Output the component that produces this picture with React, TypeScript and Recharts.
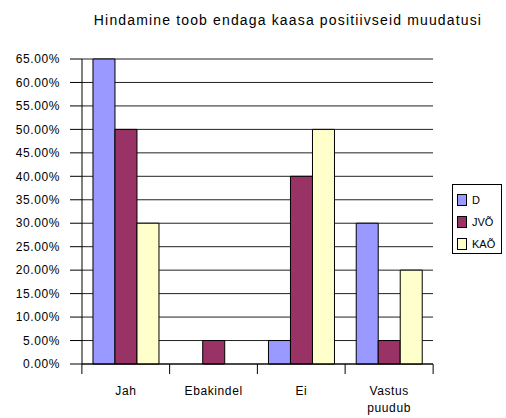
import React from 'react';
import { BarChart, Bar, XAxis, YAxis, CartesianGrid } from 'recharts';

const categories = ['Jah', 'Ebakindel', 'Ei', 'Vastus puudub'];
const seriesD = [65, 0, 5, 30];
const seriesJVO = [50, 5, 40, 5];
const seriesKAO = [30, 0, 50, 20];
const yTicks = [0, 5, 10, 15, 20, 25, 30, 35, 40, 45, 50, 55, 60, 65];
const seriesNames = ['D', 'JVÕ', 'KAÕ'];
const seriesColors = ['#9999FF', '#993366', '#FFFFCC'];

const data = categories.map((name, i) => ({
  name,
  D: seriesD[i],
  'JVÕ': seriesJVO[i],
  'KAÕ': seriesKAO[i],
}));

const FONT = '"Liberation Sans", Arial, sans-serif';
const BAND = 88;

const CategoryTick = (props: any) => {
  const { x, y, payload, index } = props;
  const words: string[] = payload.value.split(' ');
  return (
    <g>
      <line x1={x - BAND / 2} y1={y - 8} x2={x - BAND / 2} y2={y + 2} stroke="#000" />
      {index === categories.length - 1 && (
        <line x1={x + BAND / 2} y1={y - 8} x2={x + BAND / 2} y2={y + 2} stroke="#000" />
      )}
      {words.map((w, i) => (
        <text
          key={i}
          x={x}
          y={y + 23 + i * 17}
          textAnchor="middle"
          fontSize={12}
          fontFamily={FONT}
          letterSpacing={0.6}
          fill="#000"
        >
          {w}
        </text>
      ))}
    </g>
  );
};

const LegendBox = () => (
  <div
    style={{
      position: 'absolute',
      left: 452,
      top: 184,
      border: '1px solid #000',
      background: '#fff',
      width: 50,
      height: 70,
      boxSizing: 'border-box',
      padding: '4px 0 0 4px',
      fontFamily: FONT,
      fontSize: 11,
    }}
  >
    {seriesNames.map((n, i) => (
      <div key={n} style={{ display: 'flex', alignItems: 'center', height: 22 }}>
        <span
          style={{
            display: 'inline-block',
            width: 10,
            height: 12,
            background: seriesColors[i],
            border: '1px solid #000',
            boxSizing: 'border-box',
            marginRight: 5,
          }}
        />
        <span>{n}</span>
      </div>
    ))}
  </div>
);

export default function App() {
  return (
    <div style={{ position: 'absolute', left: 0, top: 0, width: 506, height: 418, background: '#fff' }}>
      <div
        style={{
          position: 'absolute',
          left: 0,
          top: 12,
          width: 506,
          paddingLeft: 70,
          boxSizing: 'border-box',
          textAlign: 'center',
          fontFamily: FONT,
          fontSize: 14,
          letterSpacing: 1.15,
        }}
      >
        Hindamine toob endaga kaasa positiivseid muudatusi
      </div>
      <BarChart
        width={506}
        height={418}
        data={data}
        margin={{ top: 59, right: 73, bottom: 0, left: 0 }}
        barCategoryGap="12.5%"
        barGap={0}
      >
        <CartesianGrid vertical={false} stroke="#222" strokeDasharray="" />
        <XAxis
          dataKey="name"
          height={54}
          axisLine={{ stroke: '#000' }}
          tickLine={false}
          tick={<CategoryTick />}
          interval={0}
        />
        <YAxis
          width={82}
          domain={[0, 65]}
          ticks={yTicks}
          interval={0}
          tickSize={12}
          tickMargin={10}
          axisLine={{ stroke: '#000' }}
          tickLine={{ stroke: '#000' }}
          tickFormatter={(v: number) => `${v.toFixed(2)}%`}
          tick={{ fontSize: 12, fontFamily: FONT, fill: '#000', letterSpacing: 0.6 }}
        />
        {seriesNames.map((n, i) => (
          <Bar key={n} dataKey={n} fill={seriesColors[i]} stroke="#000" strokeWidth={1} isAnimationActive={false} />
        ))}
      </BarChart>
      <LegendBox />
    </div>
  );
}
